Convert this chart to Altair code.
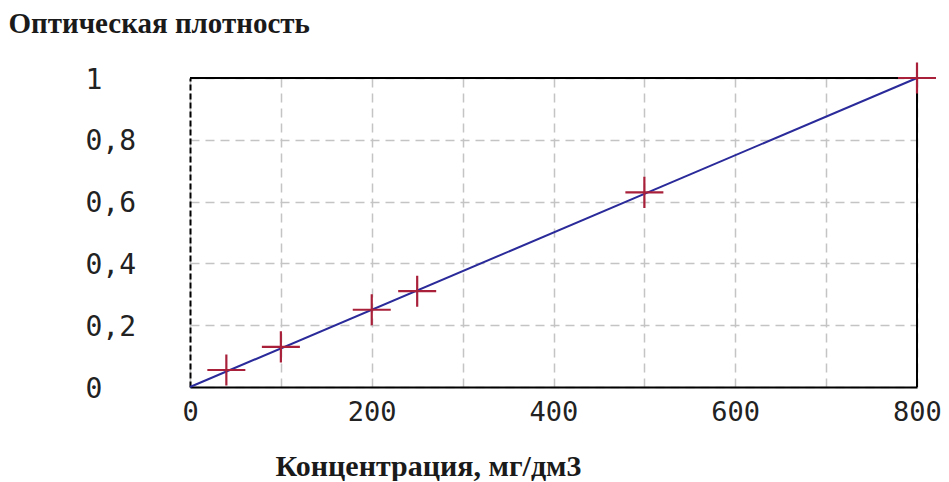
import altair as alt
import pandas as pd

# data
conc = [40, 100, 200, 250, 500, 800]
density = [0.055, 0.13, 0.25, 0.31, 0.63, 1.0]
line_x = [0, 800]
line_y = [0.0, 1.0]
x_grid = [0, 100, 200, 300, 400, 500, 600, 700, 800]
y_grid = [0.0, 0.1, 0.2, 0.3, 0.4, 0.5, 0.6, 0.7, 0.8, 0.9, 1.0]

W, H = 727, 309

pts = pd.DataFrame({"x": conc, "y": density})
ln = pd.DataFrame({"x": line_x, "y": line_y})

xscale = alt.Scale(domain=[0, 800], nice=False, zero=False)
yscale = alt.Scale(domain=[0, 1], nice=False, zero=False)

xaxis = alt.Axis(
    values=x_grid,
    labelExpr="datum.value % 200 == 0 ? datum.label : ''",
    format="d",
    title="Концентрация, мг/дм3",
    titleFont="Liberation Serif", titleFontSize=30, titleFontWeight="bold",
    titleColor="#1a1a1a",
    titleAlign="left", titleAnchor="start", titleBaseline="alphabetic",
    titleX=85, titleY=88,
    labelFont="DejaVu Sans Mono", labelFontSize=27, labelColor="#222222",
    labelBaseline="top", labelPadding=12, labelFlush=False, labelOverlap=False,
    ticks=False, tickSize=0,
    domain=True, domainColor="#000000", domainWidth=2,
    grid=True, gridColor="#c4c4c4", gridDash=[9, 6], gridWidth=1.5,
)
yaxis = alt.Axis(
    values=y_grid,
    labelExpr="(round(datum.value*10) % 2 == 0) ? replace(format(datum.value, '.1~f'), '.', ',') : ''",
    title="Оптическая плотность",
    titleFont="Liberation Serif", titleFontSize=29, titleFontWeight="bold",
    titleColor="#1a1a1a",
    titleAngle=0, titleAlign="left", titleAnchor="start", titleBaseline="alphabetic",
    titleX=-182, titleY=-46,
    labelFont="DejaVu Sans Mono", labelFontSize=28, labelColor="#222222",
    labelAlign="left", labelBaseline="middle", labelPadding=105, labelOffset=2,
    labelFlush=False, labelOverlap=False,
    ticks=False, tickSize=0,
    domain=True, domainColor="#000000", domainWidth=2, domainDash=[6, 3],
    grid=True, gridColor="#c4c4c4", gridDash=[9, 6], gridWidth=1.5,
)

line = alt.Chart(ln).mark_line(color="#2a2a9a", strokeWidth=2).encode(
    x=alt.X("x:Q", scale=xscale, axis=xaxis),
    y=alt.Y("y:Q", scale=yscale, axis=yaxis),
)

points = alt.Chart(pts).mark_point(
    shape="M-1,0H1M0,-0.82V0.82",
    size=1444,
    filled=False,
    stroke="#a8203a",
    strokeWidth=2.2,
    opacity=1,
).encode(
    x=alt.X("x:Q", scale=xscale),
    y=alt.Y("y:Q", scale=yscale),
)

top_rule = alt.Chart(ln).mark_rule(color="#000000", strokeWidth=2).encode(
    x=alt.value(0), x2=alt.value(W), y=alt.value(0)
)
right_rule = alt.Chart(ln).mark_rule(color="#000000", strokeWidth=2).encode(
    x=alt.value(W), y=alt.value(0), y2=alt.value(H)
)

chart = alt.layer(line, top_rule, right_rule, points).properties(
    width=W, height=H,
    autosize=alt.AutoSizeParams(type="none"),
    padding={"left": 182, "top": 70, "right": 24, "bottom": 94},
    background="white",
).configure_view(stroke=None)

chart.save("out.html", embed_options={"renderer": "svg", "actions": False})
